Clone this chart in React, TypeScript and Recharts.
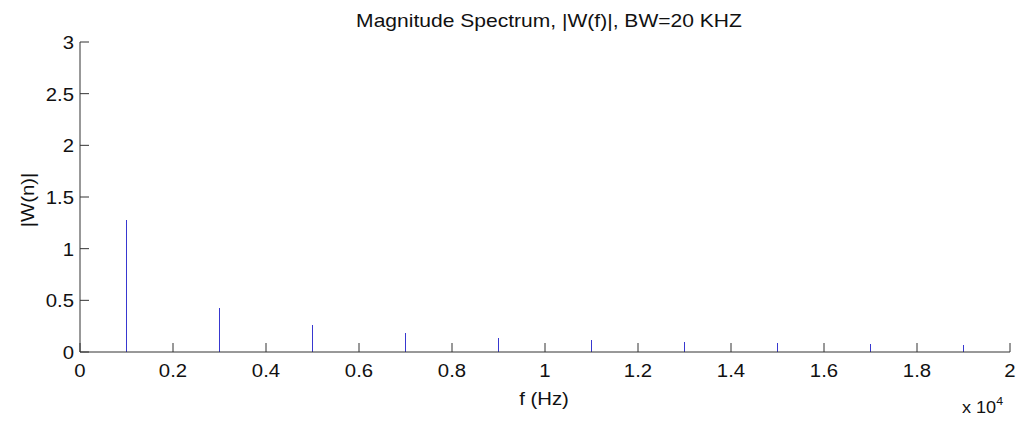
import { BarChart, Bar, XAxis, YAxis } from 'recharts'

const freqs = [1000, 3000, 5000, 7000, 9000, 11000, 13000, 15000, 17000, 19000]
const mags = [1.28, 0.43, 0.26, 0.18, 0.14, 0.115, 0.1, 0.085, 0.075, 0.067]
const xTicks = [0, 2000, 4000, 6000, 8000, 10000, 12000, 14000, 16000, 18000, 20000]
const yTicks = [0, 0.5, 1, 1.5, 2, 2.5, 3]

const data = freqs.map((f, i) => ({ f, mag: mags[i] }))

const FONT = '"Liberation Sans", Arial, sans-serif'
const AXIS = '#333'
const INK = '#111'
const SX = 1.13

function XTick(props: any) {
  const { x, y, payload } = props
  return (
    <g>
      <line x1={x} y1={y} x2={x} y2={y - 9} stroke={AXIS} strokeWidth={1} />
      <text
        transform={`translate(${x},${y + 25}) scale(${SX},1)`}
        textAnchor="middle"
        fontSize={18}
        fontFamily={FONT}
        fill={INK}
      >
        {String(payload.value / 10000)}
      </text>
    </g>
  )
}

function YTick(props: any) {
  const { x, y, payload } = props
  return (
    <g>
      <line x1={x} y1={y} x2={x + 9} y2={y} stroke={AXIS} strokeWidth={1} />
      <text
        transform={`translate(${x - 6},${y + 7}) scale(${SX},1)`}
        textAnchor="end"
        fontSize={18}
        fontFamily={FONT}
        fill={INK}
      >
        {String(payload.value)}
      </text>
    </g>
  )
}

export default function App() {
  return (
    <div style={{ position: 'absolute', left: 0, top: 0, width: 1025, height: 428, background: '#fff' }}>
      <BarChart
        width={1025}
        height={428}
        data={data}
        margin={{ top: 42, right: 15, bottom: 46, left: 50 }}
      >
        <XAxis
          dataKey="f"
          type="number"
          domain={[0, 20000]}
          ticks={xTicks}
          height={30}
          tickSize={0}
          tickMargin={0}
          tickLine={false}
          axisLine={{ stroke: AXIS, strokeWidth: 1 }}
          tick={<XTick />}
          interval={0}
        />
        <YAxis
          type="number"
          domain={[0, 3]}
          ticks={yTicks}
          width={30}
          tickSize={0}
          tickMargin={0}
          tickLine={false}
          axisLine={{ stroke: AXIS, strokeWidth: 1 }}
          tick={<YTick />}
          interval={0}
        />
        <Bar
          dataKey="mag"
          fill="#3838d0"
          barSize={1}
          shapeRendering="crispEdges"
          isAnimationActive={false}
        />
      </BarChart>
      <svg
        width={1025}
        height={428}
        style={{ position: 'absolute', left: 0, top: 0, pointerEvents: 'none' }}
        fontFamily={FONT}
        fill={INK}
      >
        <text transform="translate(549,27) scale(1.17,1)" textAnchor="middle" fontSize={18}>
          Magnitude Spectrum, |W(f)|, BW=20 KHZ
        </text>
        <text transform={`translate(544,405) scale(${SX},1)`} textAnchor="middle" fontSize={18}>
          f (Hz)
        </text>
        <text transform={`translate(34,200) rotate(-90) scale(${SX},1)`} textAnchor="middle" fontSize={18}>
          |W(n)|
        </text>
        <text transform={`translate(962,413) scale(${SX},1)`} fontSize={16}>
          x 10
          <tspan dy={-8} fontSize={11}>4</tspan>
        </text>
      </svg>
    </div>
  )
}
